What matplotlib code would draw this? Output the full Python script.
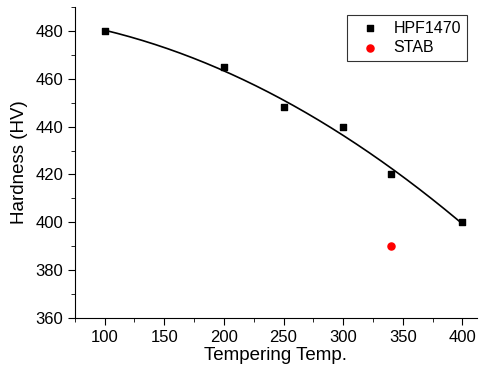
import numpy as np
import matplotlib
matplotlib.use("Agg")
import matplotlib.pyplot as plt
from matplotlib.ticker import MultipleLocator

plt.rcParams['font.family'] = ['Liberation Sans', 'DejaVu Sans']

# data
temps = [100, 200, 250, 300, 340, 400]
hardness = [480, 465, 448, 440, 420, 400]
stab_temp = [340]
stab_hard = [390]

# 2nd order polynomial fit like the original
coef = np.polyfit(temps, hardness, 2)
xf = np.linspace(min(temps), max(temps), 200)
yf = np.polyval(coef, xf)

fig = plt.figure(figsize=(4.89, 3.67), dpi=100)
ax = fig.add_axes([0.153, 0.1335, 0.822, 0.8475])

ax.plot(xf, yf, color='black', lw=1.2)
ax.scatter(temps, hardness, marker='s', s=24, color='black', label='HPF1470', zorder=3)
ax.scatter(stab_temp, stab_hard, marker='o', s=26, color='red', label='STAB', zorder=3)

ax.set_xlim(75, 412)
ax.set_ylim(360, 490)
ax.xaxis.set_major_locator(MultipleLocator(50))
ax.xaxis.set_minor_locator(MultipleLocator(25))
ax.yaxis.set_major_locator(MultipleLocator(20))
ax.yaxis.set_minor_locator(MultipleLocator(10))

ax.spines['top'].set_visible(False)
ax.spines['right'].set_visible(False)
ax.tick_params(which='major', direction='out', length=5, labelsize=12)
ax.tick_params(which='minor', direction='out', length=3)

ax.set_xlabel('Tempering Temp.', fontsize=13.5, labelpad=1.5)
ax.set_ylabel('Hardness (HV)', fontsize=13.5, labelpad=5)

leg = ax.legend(loc='upper right', bbox_to_anchor=(0.975, 0.974), borderaxespad=0,
                fontsize=11.5, fancybox=False, edgecolor='black', handletextpad=0.4,
                borderpad=0.35, labelspacing=0.3, handlelength=2.2)
leg.get_frame().set_linewidth(0.8)

plt.savefig('out.png', dpi=100)
